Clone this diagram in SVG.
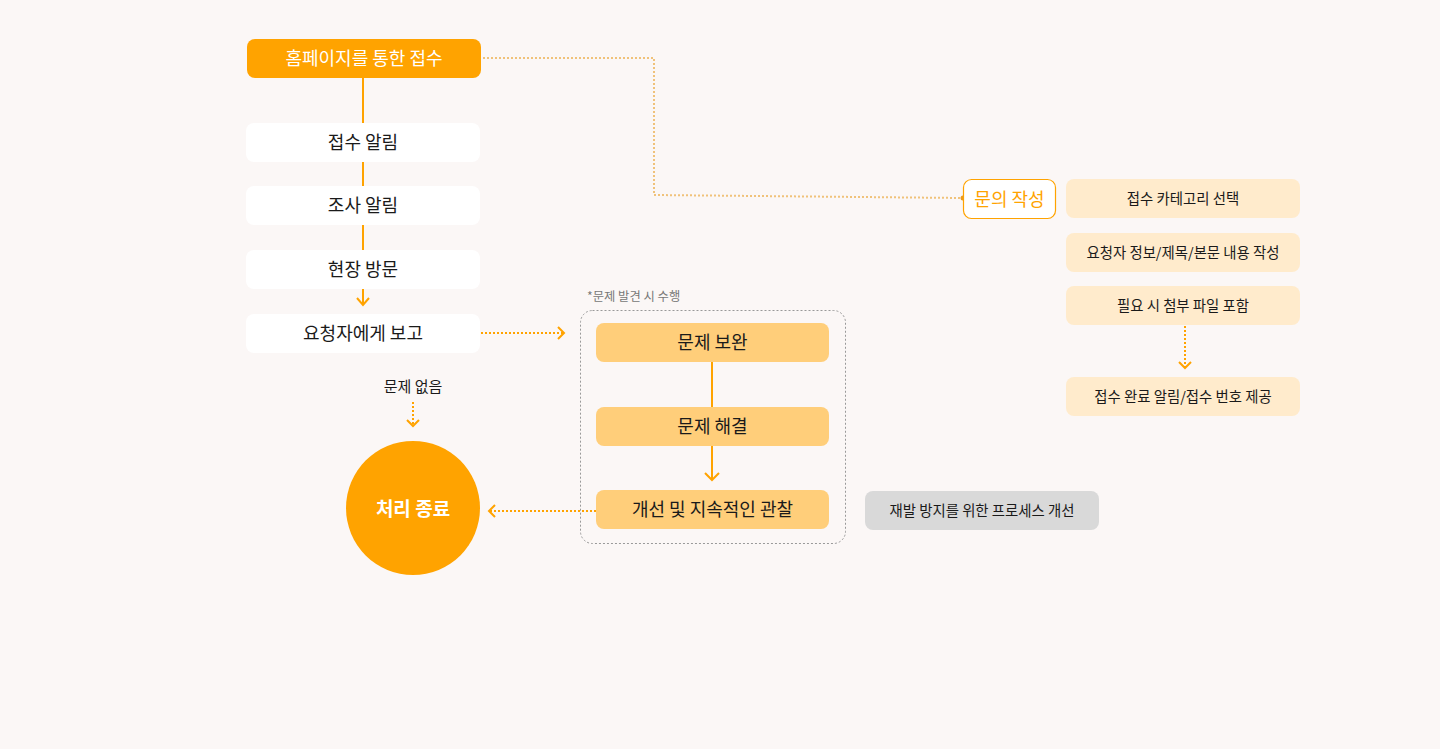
<svg xmlns="http://www.w3.org/2000/svg" width="1440" height="749" viewBox="0 0 1440 749">
<defs>
<style>
text{font-family:"Noto Sans CJK KR","Noto Sans",sans-serif;text-anchor:middle;dominant-baseline:central}
.t17{font-size:18px;fill:#1a1a1a}
.t14{font-size:14.4px;fill:#1a1a1a}
.white{fill:#fff}
.peach{fill:#ffebcc}
.mid{fill:#ffce7a}
.solid{stroke:#ffa300;stroke-width:2;fill:none}
.dot{stroke:#ffa300;stroke-width:2;fill:none;stroke-dasharray:2 2}
.chev{stroke:#ffa300;stroke-width:2;fill:none}
</style>
</defs>
<rect width="1440" height="749" fill="#fbf7f6"/>
<g id="connectors">
<line class="solid" x1="363" y1="78" x2="363" y2="123"/>
<line class="solid" x1="363" y1="162" x2="363" y2="186"/>
<line class="solid" x1="363" y1="225" x2="363" y2="250"/>
<line class="solid" x1="363" y1="289" x2="363" y2="305"/>
<polyline class="chev" points="357,298 363,305 369,298"/>
<polyline points="467,58 654,58 654,195 962,198" fill="none" stroke="#f0c27a" stroke-width="2" stroke-dasharray="2 2"/>
<circle cx="963" cy="198" r="2.5" fill="#e89a20"/>
<line class="dot" x1="481" y1="333" x2="563" y2="333"/>
<polyline class="chev" points="558,327 564,333 558,339"/>
<line class="dot" x1="413" y1="402" x2="413" y2="426"/>
<polyline class="chev" points="407,420 413,426 419,420"/>
<line class="dot" x1="1185" y1="326" x2="1185" y2="368"/>
<polyline class="chev" points="1179,362 1185,368 1191,362"/>
<line class="solid" x1="712" y1="362" x2="712" y2="407"/>
<line class="solid" x1="712" y1="446" x2="712" y2="480"/>
<polyline class="chev" points="705,473 712,480 719,473"/>
<line class="dot" x1="596" y1="511" x2="490" y2="511"/>
<polyline class="chev" points="495,505 489,511 495,517"/>
</g>
<g id="group-box">
<rect x="580.5" y="310.5" width="265" height="233" rx="12" fill="none" stroke="#999" stroke-width="1" stroke-dasharray="2 2"/>
<text x="587" y="296" style="font-size:12.3px;fill:#777;text-anchor:start">*문제 발견 시 수행</text>
</g>
<g id="n-home"><rect x="247" y="39" width="234" height="39" rx="8" fill="#ffa300"/><text class="t17" x="364" y="57" style="fill:#fff">홈페이지를 통한 접수</text></g>
<g id="n-notify"><rect class="white" x="246" y="123" width="234" height="39" rx="8"/><text class="t17" x="363" y="141">접수 알림</text></g>
<g id="n-survey"><rect class="white" x="246" y="186" width="234" height="39" rx="8"/><text class="t17" x="363" y="204">조사 알림</text></g>
<g id="n-visit"><rect class="white" x="246" y="250" width="234" height="39" rx="8"/><text class="t17" x="363" y="268">현장 방문</text></g>
<g id="n-report"><rect class="white" x="246" y="314" width="234" height="39" rx="8"/><text class="t17" x="363" y="332">요청자에게 보고</text></g>
<g id="n-noproblem"><text x="413" y="385" style="font-size:15px;fill:#1a1a1a">문제 없음</text></g>
<g id="n-end"><circle cx="413" cy="508" r="67" fill="#ffa300"/><text x="413" y="507" style="font-size:19px;font-weight:bold;fill:#fff">처리 종료</text></g>
<g id="n-inquiry"><rect x="963.5" y="179.5" width="92" height="39" rx="8" fill="#fff" stroke="#ffa300" stroke-width="1.2"/><text x="1009.5" y="197.5" style="font-size:18px;fill:#ffa300">문의 작성</text></g>
<g id="n-cat"><rect class="peach" x="1066" y="179" width="234" height="39" rx="8"/><text class="t14" x="1183" y="197.5">접수 카테고리 선택</text></g>
<g id="n-info"><rect class="peach" x="1066" y="233" width="234" height="39" rx="8"/><text class="t14" x="1183" y="251.5">요청자 정보/제목/본문 내용 작성</text></g>
<g id="n-attach"><rect class="peach" x="1066" y="286" width="234" height="39" rx="8"/><text class="t14" x="1183" y="304.5">필요 시 첨부 파일 포함</text></g>
<g id="n-done"><rect class="peach" x="1066" y="377" width="234" height="39" rx="8"/><text class="t14" x="1183" y="395.5">접수 완료 알림/접수 번호 제공</text></g>
<g id="n-fix"><rect class="mid" x="596" y="323" width="233" height="39" rx="8"/><text class="t17" x="712.5" y="341">문제 보완</text></g>
<g id="n-solve"><rect class="mid" x="596" y="407" width="233" height="39" rx="8"/><text class="t17" x="712.5" y="425">문제 해결</text></g>
<g id="n-observe"><rect class="mid" x="596" y="490" width="233" height="39" rx="8"/><text class="t17" x="712.5" y="508">개선 및 지속적인 관찰</text></g>
<g id="n-prevent"><rect x="865" y="491" width="234" height="39" rx="8" fill="#d9d9d9"/><text class="t14" x="982" y="509.5">재발 방지를 위한 프로세스 개선</text></g>
</svg>
